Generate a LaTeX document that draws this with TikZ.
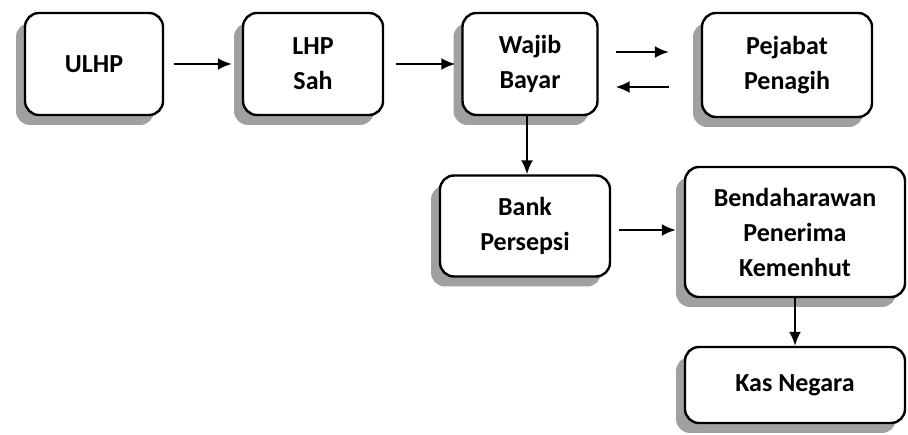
\documentclass[tikz,border=0pt]{standalone}
\usepackage{fontspec}
\setmainfont{Carlito}
\usetikzlibrary{arrows.meta,shadows}
\tikzset{
  box/.style={draw=black, line width=2.4pt, rounded corners=14pt, fill=white,
    align=center, font=\fontsize{26}{35}\selectfont\bfseries, inner sep=0pt,
    general shadow={shadow xshift=-9pt, shadow yshift=-10pt, fill=black!50, opacity=0.75}},
  flow/.style={line width=2.2pt, -{Latex[length=14pt,width=12pt]}}
}
\begin{document}
\begin{tikzpicture}[x=1pt,y=-1pt]
\useasboundingbox (0,0) rectangle (908,435);
\node[box, minimum width=138pt, minimum height=102pt] (ulhp) at (94,64) {ULHP};
\node[box, minimum width=140pt, minimum height=102pt] (lhp) at (313,64) {LHP\\Sah};
\node[box, minimum width=135pt, minimum height=102pt] (wajib) at (530,64) {Wajib\\Bayar};
\node[box, minimum width=170pt, minimum height=104pt] (pejabat) at (787,65) {Pejabat\\Penagih};
\node[box, minimum width=170pt, minimum height=101pt] (bank) at (525,226) {Bank\\Persepsi};
\node[box, minimum width=220pt, minimum height=130pt] (bend) at (795,232) {Bendaharawan\\Penerima\\Kemenhut};
\node[box, minimum width=220pt, minimum height=76pt] (kas) at (795,385) {Kas Negara};

\draw[flow, shorten <=10pt, shorten >=10pt] (ulhp) -- (lhp);
\draw[flow, shorten <=12pt, shorten >=6pt] (lhp) -- (wajib);
\draw[flow, shorten <=17pt, shorten >=32pt] ([yshift=12pt]wajib.east) -- ([yshift=12pt]wajib.east -| pejabat.west);
\draw[flow, shorten <=32pt, shorten >=17pt] ([yshift=-22pt]pejabat.west) -- ([yshift=-22pt]pejabat.west -| wajib.east);
\draw[flow] ([xshift=-3pt]wajib.south) -- ([xshift=-3pt]wajib.south |- bank.north);
\draw[flow, shorten <=8pt, shorten >=8pt] ([yshift=-4pt]bank.east) -- ([yshift=-4pt]bank.east -| bend.west);
\draw[flow] (bend.south) -- (kas.north);
\end{tikzpicture}
\end{document}
